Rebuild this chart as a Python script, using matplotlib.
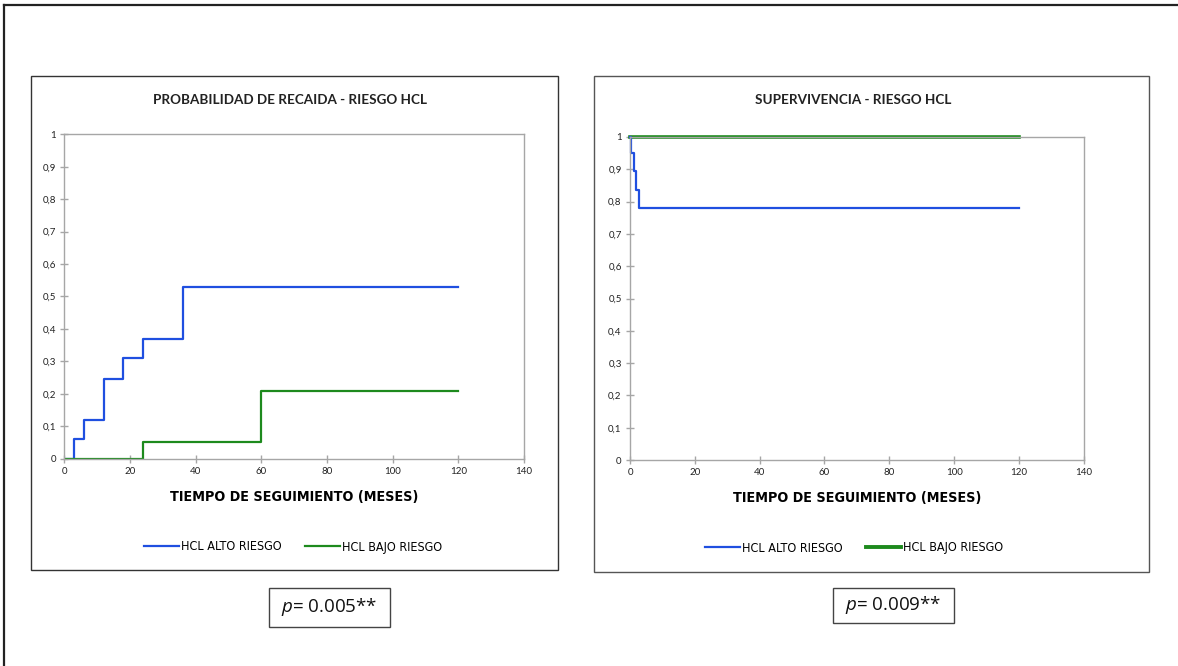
import matplotlib

matplotlib.use("Agg")
import matplotlib.pyplot as plt
from matplotlib.lines import Line2D
from matplotlib.patches import Rectangle

plt.rcParams["font.family"] = ["Lato", "DejaVu Sans"]
plt.rcParams["mathtext.fontset"] = "custom"
plt.rcParams["mathtext.rm"] = "Open Sans"
plt.rcParams["mathtext.it"] = "Open Sans:italic"

# Data
recaida_alto_t = [0, 3, 6, 12, 18, 24, 36, 120]
recaida_alto_p = [0, 0.06, 0.12, 0.245, 0.31, 0.37, 0.53, 0.53]
recaida_bajo_t = [0, 24, 60, 120]
recaida_bajo_p = [0, 0.05, 0.21, 0.21]

superv_alto_t = [0, 0.3, 1.1, 2.0, 2.8, 120]
superv_alto_p = [1, 0.95, 0.895, 0.835, 0.78, 0.78]
superv_bajo_t = [0, 120]
superv_bajo_p = [1, 1]

x_ticks = [0, 20, 40, 60, 80, 100, 120, 140]
y_ticks = [0, 0.1, 0.2, 0.3, 0.4, 0.5, 0.6, 0.7, 0.8, 0.9, 1]
y_labels = ["0", "0,1", "0,2", "0,3", "0,4", "0,5", "0,6", "0,7", "0,8", "0,9", "1"]

series_names = ["HCL ALTO RIESGO", "HCL BAJO RIESGO"]
titles = ["PROBABILIDAD DE RECAIDA - RIESGO HCL", "SUPERVIVENCIA - RIESGO HCL"]
x_label = "TIEMPO DE SEGUIMIENTO (MESES)"
p_values = ["0.005**", "0.009**"]

BLUE = "#1f4fe0"
GREEN = "#1d8a1d"
GREY = "#a6a6a6"
NARROW = ["DejaVu Sans", "Liberation Sans"]

W, H = 1178, 666
fig = plt.figure(figsize=(W / 100, H / 100), dpi=100)


def px_rect(x0, y0, x1, y1):
    """Convert pixel box (top-left origin) to figure fraction [l, b, w, h]."""
    return [x0 / W, 1 - y1 / H, (x1 - x0) / W, (y1 - y0) / H]


def px(x, y):
    return x / W, 1 - y / H


# outer frame (left and top only)
fig.add_artist(Line2D([4 / W, 4 / W], [0, 1 - 5 / H], color="#222222", lw=1.6))
fig.add_artist(Line2D([4 / W, 1], [1 - 5 / H, 1 - 5 / H], color="#222222", lw=1.6))

# chart boxes
for box, ec in [((31, 76, 558, 570), "#333333"), ((594, 76, 1149, 572), "#555555")]:
    l, b, w, h = px_rect(*box)
    fig.add_artist(Rectangle((l, b), w, h, transform=fig.transFigure,
                             fill=False, ec=ec, lw=1.0))


def style_axes(ax):
    ax.set_xlim(0, 140)
    ax.set_ylim(0, 1)
    ax.set_xticks(x_ticks)
    ax.set_yticks(y_ticks)
    ax.set_yticklabels(y_labels)
    for s in ax.spines.values():
        s.set_color(GREY)
        s.set_linewidth(1.0)
    ax.tick_params(direction="inout", length=6, width=1.0, color=GREY,
                   labelsize=7, labelcolor="#222222", pad=3)
    ax.set_xlabel(x_label, family=NARROW, fontstretch="condensed",
                  fontsize=10.3, fontweight="bold", labelpad=10)


# left chart
ax1 = fig.add_axes(px_rect(64.3, 134.3, 524, 458.7))
style_axes(ax1)
ax1.step(recaida_alto_t, recaida_alto_p, where="post", color=BLUE, lw=1.6)
ax1.step(recaida_bajo_t, recaida_bajo_p, where="post", color=GREEN, lw=1.6)

# right chart
ax2 = fig.add_axes(px_rect(630, 137, 1083.7, 460))
style_axes(ax2)
ax2.step(superv_bajo_t, superv_bajo_p, where="post", color=GREEN, lw=2.6, clip_on=False)
ax2.step(superv_alto_t, superv_alto_p, where="post", color=BLUE, lw=1.6, clip_on=False)

# titles
for (x, y), t in zip([(290, 100), (853, 100)], titles):
    fig.text(*px(x, y), t, ha="center", va="center", fontsize=9.7,
             fontweight="bold", color="#222222")

# legends
legend_specs = [
    (ax1, (293, 547), [1.6, 1.6]),
    (ax2, (854, 548), [1.6, 2.8]),
]
for ax, (x, y), widths in legend_specs:
    handles = [Line2D([], [], color=BLUE, lw=widths[0]),
               Line2D([], [], color=GREEN, lw=widths[1])]
    ax.legend(handles, series_names, loc="center", bbox_to_anchor=px(x, y),
              bbox_transform=fig.transFigure, ncol=2, frameon=False,
              handlelength=2.8, handletextpad=0.2, columnspacing=1.85,
              prop={"family": NARROW, "stretch": "condensed", "size": 9})

# p-value boxes
for (x0, y0, x1, y1), pv in zip([(269, 588, 390, 627), (833, 588, 954, 623)], p_values):
    l, b, w, h = px_rect(x0, y0, x1, y1)
    fig.add_artist(Rectangle((l, b), w, h, transform=fig.transFigure,
                             fill=False, ec="#444444", lw=1.0))
    fig.text(l + w / 2, b + h / 2, r"$\it{p}$= " + pv, ha="center", va="center",
             fontsize=13.5, family=["Open Sans", "DejaVu Sans"], color="#111111")

fig.savefig("out.png", dpi=100)
